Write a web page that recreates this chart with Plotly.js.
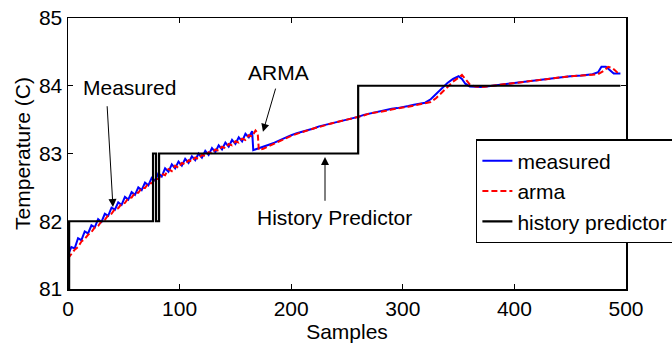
<!DOCTYPE html>
<html>
<head>
<meta charset="utf-8">
<script src="https://cdn.plot.ly/plotly-3.0.1.min.js"></script>
<style>html,body{margin:0;padding:0;background:#fff;}#chart{width:672px;height:347px;}</style>
</head>
<body>
<div id="chart"></div>
<script>
// Measured (blue)
var measuredX = [0,3,6,9,12,15,18,21,24,27,30,33,36,39,42,45,48,51,54,57,60,63,66,69,72,75,78,81,84,87,90,93,96,99,102,105,108,111,114,117,120,123,126,129,132,135,138,141,144,147,150,153,156,159,162,165,166,170,175,180,185,190,195,200,205,210,215,220,225,230,235,240,245,250,255,260,265,270,275,280,285,290,295,300,305,310,315,320,325,330,335,340,345,350,353,356,360,365,370,375,380,385,390,395,400,410,420,430,440,450,460,470,475,478,482,486,489,495];
var measuredY = [81.50,81.62,81.60,81.75,81.72,81.85,81.82,81.94,81.91,82.03,81.99,82.11,82.08,82.20,82.17,82.28,82.24,82.36,82.32,82.43,82.39,82.50,82.46,82.57,82.53,82.64,82.60,82.71,82.66,82.78,82.73,82.84,82.78,82.88,82.82,82.92,82.86,82.96,82.90,83.00,82.94,83.04,82.98,83.08,83.02,83.12,83.06,83.16,83.10,83.20,83.14,83.24,83.18,83.29,83.24,83.33,83.05,83.07,83.10,83.13,83.16,83.20,83.23,83.27,83.30,83.32,83.35,83.37,83.40,83.42,83.44,83.46,83.48,83.50,83.51,83.54,83.57,83.59,83.61,83.62,83.64,83.66,83.67,83.68,83.70,83.72,83.74,83.75,83.80,83.88,83.96,84.04,84.10,84.14,84.10,84.03,83.99,83.98,83.98,83.99,84.00,84.01,84.02,84.03,84.04,84.07,84.09,84.11,84.13,84.14,84.15,84.17,84.20,84.28,84.28,84.23,84.18,84.18];
// ARMA prediction (red dashed)
var armaX = [0,3,6,9,12,15,18,21,24,27,30,33,36,39,42,45,48,51,54,57,60,63,66,69,72,75,78,81,84,87,90,93,96,99,102,105,108,111,114,117,120,123,126,129,132,135,138,141,144,147,150,153,156,159,162,165,168,170,171,175,180,185,190,195,200,205,210,215,220,225,230,235,240,245,250,255,260,265,270,275,280,285,290,295,300,305,310,315,320,325,330,335,340,345,350,353,356,360,365,370,375,380,385,390,395,400,410,420,430,440,450,460,470,475,480,484,488,492,495];
var armaY = [81.45,81.52,81.58,81.62,81.70,81.74,81.80,81.84,81.91,81.93,82.00,82.02,82.09,82.11,82.18,82.19,82.26,82.27,82.34,82.35,82.42,82.42,82.49,82.49,82.56,82.56,82.63,82.62,82.70,82.68,82.77,82.74,82.82,82.79,82.86,82.84,82.90,82.88,82.94,82.92,82.98,82.96,83.02,83.00,83.06,83.04,83.10,83.08,83.14,83.12,83.18,83.16,83.22,83.20,83.27,83.25,83.34,83.30,83.05,83.07,83.11,83.15,83.19,83.23,83.26,83.29,83.32,83.34,83.37,83.39,83.42,83.44,83.46,83.48,83.49,83.51,83.53,83.56,83.59,83.60,83.62,83.63,83.65,83.67,83.68,83.69,83.71,83.73,83.74,83.76,83.82,83.90,83.98,84.06,84.12,84.16,84.10,84.02,83.99,83.98,83.99,84.00,84.01,84.03,84.04,84.05,84.07,84.09,84.11,84.13,84.14,84.15,84.16,84.17,84.22,84.28,84.26,84.20,84.22];
// History predictor (black step)
var historyX = [0,1,76.2,78.9,81.6,260,495];
var historyY = [81,82,83,82,83,84,84];

var xTicks = [0,100,200,300,400,500];
var yTicks = [81,82,83,84,85];

var FONT = '"Liberation Sans", Arial, sans-serif';

var traces = [
  {x: measuredX, y: measuredY, type: 'scatter', mode: 'lines', name: 'measured',
   line: {color: '#0000ff', width: 2}},
  {x: armaX, y: armaY, type: 'scatter', mode: 'lines', name: 'arma',
   line: {color: '#ff0000', width: 2, dash: '6px,3px'}},
  {x: historyX, y: historyY, type: 'scatter', mode: 'lines', name: 'history predictor',
   line: {color: '#000000', width: 2.2, shape: 'hv'}}
];

var layout = {
  width: 672, height: 347,
  margin: {l: 68, r: 46, t: 18, b: 58, pad: 0, autoexpand: false},
  paper_bgcolor: '#fff', plot_bgcolor: '#fff',
  font: {family: FONT, size: 21, color: '#000'},
  showlegend: true,
  legend: {x: 0.731, y: 0.553, xanchor: 'left', yanchor: 'top',
    bgcolor: '#fff', bordercolor: '#000', borderwidth: 1.5,
    font: {family: FONT, size: 21, color: '#000'}, tracegroupgap: 0},
  xaxis: {range: [0, 500], tickvals: xTicks, ticktext: xTicks.map(String),
    showgrid: false, zeroline: false, showline: true, mirror: 'ticks',
    linecolor: '#000', linewidth: 1.5, ticks: 'inside', ticklen: 5, tickcolor: '#000',
    tickfont: {family: FONT, size: 21}, title: {text: 'Samples', font: {family: FONT, size: 21}, standoff: 0}},
  yaxis: {range: [81, 85], tickvals: yTicks, ticktext: yTicks.map(String),
    showgrid: false, zeroline: false, showline: true, mirror: 'ticks',
    linecolor: '#000', linewidth: 1.5, ticks: 'inside', ticklen: 5, tickcolor: '#000',
    tickfont: {family: FONT, size: 21}, title: {text: 'Temperature (C)', font: {family: FONT, size: 21}, standoff: 2}},
  annotations: [
    {x: 40.3, y: 82.21, ax: 35.0, ay: 83.72, axref: 'x', ayref: 'y', xref: 'x', yref: 'y',
     showarrow: true, arrowhead: 2, arrowsize: 1.6, arrowwidth: 1, arrowcolor: '#000', text: ''},
    {x: 174.7, y: 83.32, ax: 186.4, ay: 83.98, axref: 'x', ayref: 'y', xref: 'x', yref: 'y',
     showarrow: true, arrowhead: 2, arrowsize: 1.6, arrowwidth: 1, arrowcolor: '#000', text: ''},
    {x: 230.3, y: 82.95, ax: 230.3, ay: 82.28, axref: 'x', ayref: 'y', xref: 'x', yref: 'y',
     showarrow: true, arrowhead: 2, arrowsize: 1.6, arrowwidth: 1, arrowcolor: '#000', text: ''},
    {x: 54.7, y: 83.97, xref: 'x', yref: 'y', text: 'Measured', showarrow: false,
     font: {family: FONT, size: 21, color: '#000'}},
    {x: 188.2, y: 84.19, xref: 'x', yref: 'y', text: 'ARMA', showarrow: false,
     font: {family: FONT, size: 21, color: '#000'}},
    {x: 238.4, y: 82.05, xref: 'x', yref: 'y', text: 'History Predictor', showarrow: false,
     font: {family: FONT, size: 21, color: '#000'}}
  ]
};

Plotly.newPlot('chart', traces, layout, {staticPlot: true, displayModeBar: false});
</script>
</body>
</html>
